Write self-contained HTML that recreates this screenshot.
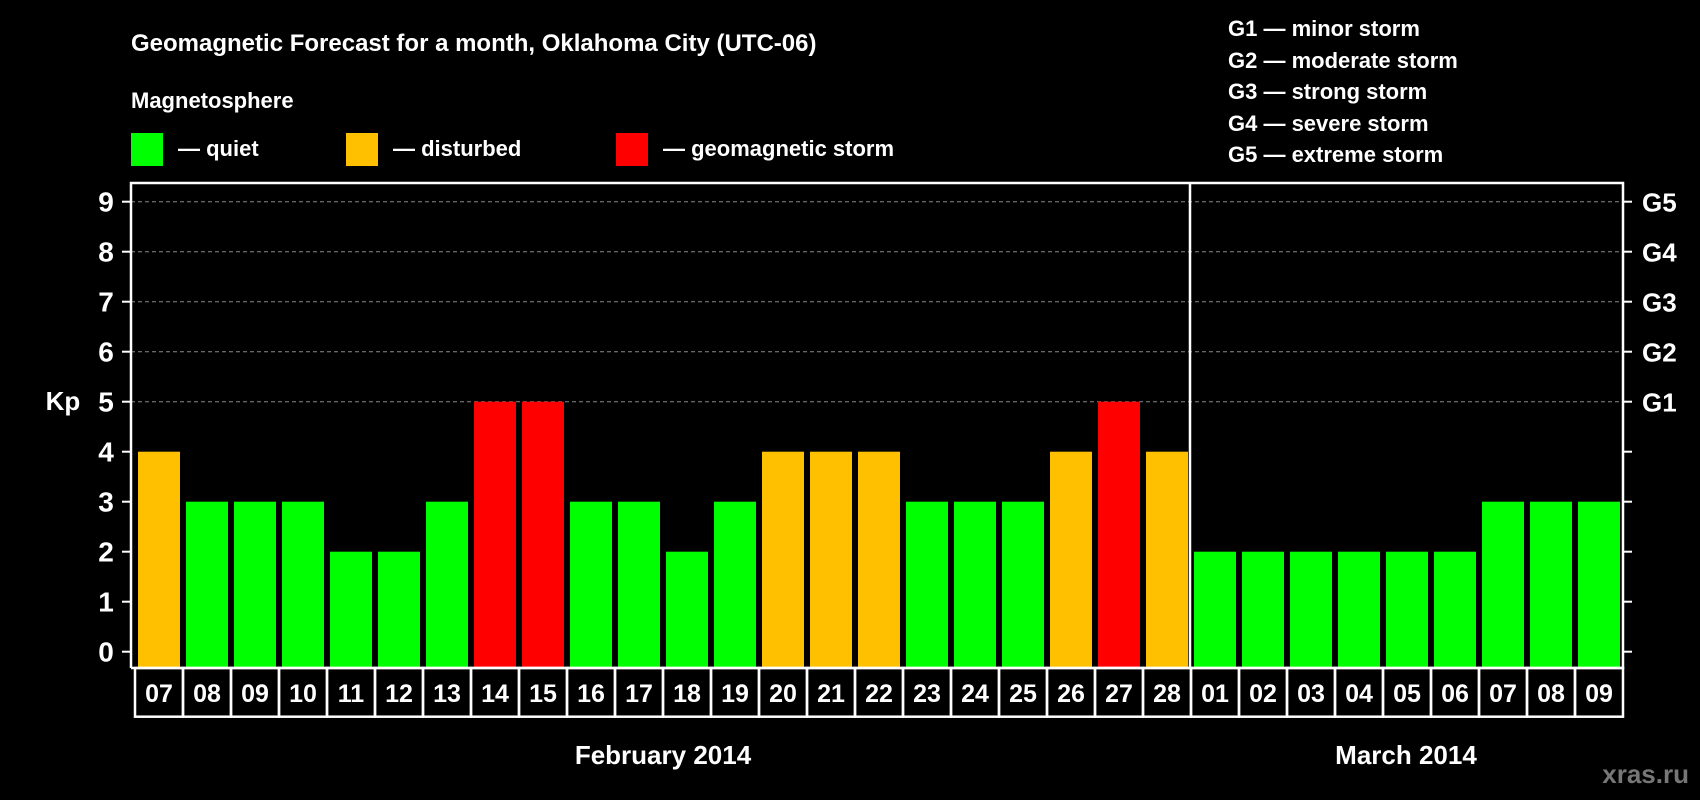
<!DOCTYPE html>
<html><head><meta charset="utf-8"><style>
html,body{margin:0;padding:0;background:#000;width:1700px;height:800px;overflow:hidden}
svg{display:block;font-family:"Liberation Sans",Arial,sans-serif;font-weight:bold}
</style></head><body>
<svg id="chart" width="1700" height="800" viewBox="0 0 1700 800">
<text x="131" y="51" fill="#fff" font-size="24">Geomagnetic Forecast for a month, Oklahoma City (UTC-06)</text>
<text x="131" y="108" fill="#fff" font-size="22">Magnetosphere</text>
<rect x="131" y="133" width="32" height="33" fill="#00ff00"/>
<text x="178" y="156" fill="#fff" font-size="22">— quiet</text>
<rect x="346" y="133" width="32" height="33" fill="#ffc000"/>
<text x="393" y="156" fill="#fff" font-size="22">— disturbed</text>
<rect x="616" y="133" width="32" height="33" fill="#ff0000"/>
<text x="663" y="156" fill="#fff" font-size="22">— geomagnetic storm</text>
<g fill="#fff" font-size="22">
<text x="1228" y="36">G1 — minor storm</text>
<text x="1228" y="68">G2 — moderate storm</text>
<text x="1228" y="99">G3 — strong storm</text>
<text x="1228" y="131">G4 — severe storm</text>
<text x="1228" y="162">G5 — extreme storm</text>
</g>
<text x="63" y="410" fill="#fff" font-size="26" text-anchor="middle">Kp</text>
<g id="grid"></g><g id="bars"></g><g id="axes"></g>
<text x="663" y="764" fill="#fff" font-size="26" text-anchor="middle">February 2014</text>
<text x="1406" y="764" fill="#fff" font-size="26" text-anchor="middle">March 2014</text>
<text x="1689" y="783" fill="#777" font-size="26" text-anchor="end">xras.ru</text>
</svg>
<script>
const days = ["07","08","09","10","11","12","13","14","15","16","17","18","19","20","21","22","23","24","25","26","27","28","01","02","03","04","05","06","07","08","09"];
const kpValues = [4,3,3,3,2,2,3,5,5,3,3,2,3,4,4,4,3,3,3,4,5,4,2,2,2,2,2,2,3,3,3];
const yTicks = [0,1,2,3,4,5,6,7,8,9];
const gLabels = ["G1","G2","G3","G4","G5"];
const NS="http://www.w3.org/2000/svg";
const L=131,R=1623,T=183,B=668,slot=48;
const y=v=>651.7-v*50;
const x=i=>135+i*slot;
const col=v=>v>=5?"#ff0000":v>=4?"#ffc000":"#00ff00";
function mk(tag,attrs,parent){const e=document.createElementNS(NS,tag);for(const k in attrs)e.setAttribute(k,attrs[k]);parent.appendChild(e);return e;}
const grid=document.getElementById('grid'),bars=document.getElementById('bars'),axes=document.getElementById('axes');
yTicks.forEach(v=>{
  if(v>=5){const g=mk('line',{x1:L,x2:R,y1:y(v),y2:y(v),stroke:'#888','stroke-width':1,'stroke-dasharray':'4 3'},grid);
  
  }
  const t=mk('line',{x1:L-9,x2:L,y1:y(v),y2:y(v),stroke:'#fff','stroke-width':2},axes);
  
  
  const t2=mk('line',{x1:R,x2:R+9,y1:y(v),y2:y(v),stroke:'#fff','stroke-width':2},axes);
  
  
  const lb=mk('text',{x:106,y:y(v)+10,fill:'#fff','font-size':28,'text-anchor':'middle'},axes);
  lb.textContent=v;
  
  
});
gLabels.forEach((g,i)=>{
  const lb=mk('text',{x:1642,y:y(i+5)+10,fill:'#fff','font-size':26},axes);
  lb.textContent=g;
  
  
});
kpValues.forEach((v,i)=>{
  const r=mk('rect',{x:x(i)+3,y:y(v),width:42,height:B-y(v),fill:col(v)},bars);
  
  
  const c=mk('rect',{x:x(i),y:B,width:slot,height:48.7,fill:'none',stroke:'#fff','stroke-width':2.5},axes);
  
  
  const d=mk('text',{x:x(i)+slot/2,y:B+34,fill:'#fff','font-size':25,'text-anchor':'middle'},axes);
  d.textContent=days[i];
  
  
});
const fr=mk('path',{d:`M${L} ${B}V${T}H${R}V${B}H${L}`,fill:'none',stroke:'#fff','stroke-width':2.5},axes);


const sep=mk('line',{x1:x(22)-1,x2:x(22)-1,y1:T,y2:B,stroke:'#fff','stroke-width':2.5},axes);


</script>
</body></html>
